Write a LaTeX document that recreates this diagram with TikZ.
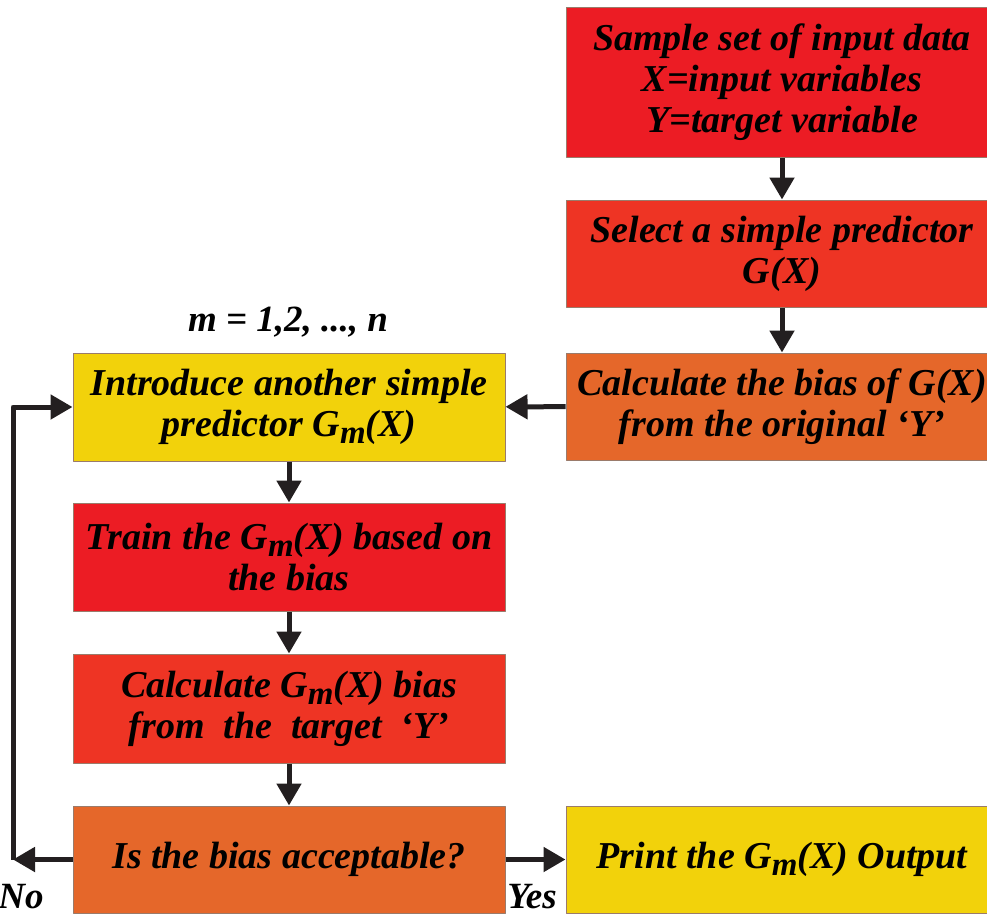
\documentclass[tikz,border=0pt]{standalone}
\usepackage{fontspec}
\setmainfont{Liberation Serif}
\usetikzlibrary{arrows.meta}
\definecolor{boxred}{HTML}{EC1C24}
\definecolor{boxredorange}{HTML}{EE3424}
\definecolor{boxorange}{HTML}{E5672A}
\definecolor{boxyellow}{HTML}{F2D20B}
\definecolor{boxline}{HTML}{9A7B6B}
\definecolor{arrowgray}{HTML}{231F20}
\newcommand{\Gm}{G\raisebox{-7pt}{\fontsize{33}{33}\selectfont m}}
\begin{document}
\begin{tikzpicture}[line cap=round,line join=round,>={Triangle[length=22pt,width=24pt]},x=1pt,y=-1pt,
	box/.style={draw=boxline,line width=1pt,minimum width=432pt,inner sep=0pt,align=center,font=\fontsize{38}{41}\selectfont\bfseries\itshape},
	lbl/.style={inner sep=0pt,font=\fontsize{37}{41}\selectfont\bfseries\itshape},
	flow/.style={->,line width=5pt,color=arrowgray,line cap=butt}]
			\useasboundingbox (0,0) rectangle (987,916);
			\clip (0,0) rectangle (987,916);
			% right column
			\node[box,fill=boxred,minimum height=150pt] (sample) at (782,82) {Sample set of input data\\X=input variables\\Y=target variable};
			\node[box,fill=boxredorange,minimum height=107pt] (select) at (782,253.5) {Select a simple predictor\\G(X)};
			\node[box,fill=boxorange,minimum height=107pt] (calcbias) at (782,406.5) {Calculate the bias of G(X)\\from the original `Y'};
			% left column
			\node[box,fill=boxyellow,minimum height=108pt] (intro) at (289,407) {Introduce another simple\\predictor \Gm(X)};
			\node[box,fill=boxred,minimum height=108pt] (train) at (289,557) {Train the \Gm(X) based on\\the bias};
			\node[box,fill=boxredorange,minimum height=109pt] (calcgm) at (289,708.5) {Calculate \Gm(X) bias\\from~ the~ target~ `Y'};
			\node[box,fill=boxorange,minimum height=107pt] (test) at (289,859.5) {Is the bias acceptable?};
			\node[box,fill=boxyellow,minimum height=107pt] (print) at (782,859.5) {Print the \Gm(X) Output};
			% labels
			\node[lbl] (iter) at (288,322) {m = 1,2, ..., n};
			\node[lbl] (no) at (21,897) {No};
			\node[lbl] (yes) at (532,897) {Yes};
			\coordinate (nocorner) at (13,859.5);
			% connectors
			\draw[flow] (sample) -- (select);
			\draw[flow] (select) -- (calcbias);
			\draw[flow] (calcbias) -- (intro);
			\draw[flow] (intro) -- (train);
			\draw[flow] (train) -- (calcgm);
			\draw[flow] (calcgm) -- (test);
			\draw[flow] (test) -- (print);
			\draw[flow] (test) -- (nocorner);
			\draw[flow] (nocorner) |- (intro);
		\end{tikzpicture}
\end{document}
